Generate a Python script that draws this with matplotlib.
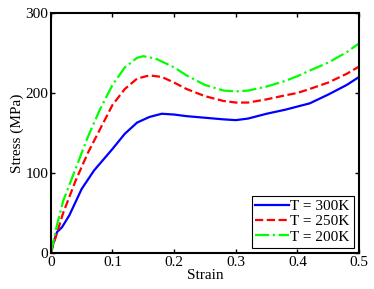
import matplotlib
matplotlib.use('Agg')
import matplotlib.pyplot as plt

plt.rcParams['font.family'] = ['Liberation Serif', 'DejaVu Serif']

# stress-strain data
strain_300 = [0, 0.005, 0.01, 0.018, 0.03, 0.05, 0.07, 0.1, 0.12, 0.14, 0.16, 0.18, 0.2,
              0.22, 0.25, 0.28, 0.3, 0.32, 0.35, 0.38, 0.4, 0.42, 0.45, 0.48, 0.5]
stress_300 = [0, 15, 26, 32, 47, 80, 103, 130, 149, 163, 170, 174, 173,
              171, 169, 167, 166, 168, 174, 179, 183, 187, 198, 210, 220]

strain_250 = [0, 0.01, 0.02, 0.04, 0.06, 0.08, 0.1, 0.12, 0.14, 0.16, 0.18, 0.2,
              0.22, 0.25, 0.28, 0.3, 0.32, 0.35, 0.38, 0.4, 0.42, 0.45, 0.48, 0.5]
stress_250 = [0, 25, 50, 90, 125, 155, 185, 205, 218, 222, 220, 213,
              205, 196, 190, 188, 188, 192, 197, 200, 205, 213, 224, 233]

strain_200 = [0, 0.01, 0.02, 0.04, 0.06, 0.08, 0.1, 0.12, 0.14, 0.15, 0.17, 0.2,
              0.22, 0.25, 0.28, 0.3, 0.32, 0.35, 0.38, 0.4, 0.42, 0.45, 0.48, 0.5]
stress_200 = [0, 35, 65, 105, 145, 180, 210, 232, 244, 246, 243, 232,
              222, 210, 203, 202, 203, 208, 215, 221, 228, 238, 251, 262]

fig = plt.figure(figsize=(3.74, 2.89), dpi=100)
ax = fig.add_axes([0.136, 0.125, 0.824, 0.83])

ax.plot(strain_300, stress_300, '-', color='#0000ff', lw=1.6, label='T = 300K')
ax.plot(strain_250, stress_250, '--', color='#ff0000', lw=1.6, label='T = 250K')
ax.plot(strain_200, stress_200, '-.', color='#00ff00', lw=1.6, label='T = 200K')

ax.set_xlim(0, 0.5)
ax.set_ylim(0, 300)
ax.set_xticks([0, 0.1, 0.2, 0.3, 0.4, 0.5])
ax.set_xticklabels(['0', '0.1', '0.2', '0.3', '0.4', '0.5'])
ax.set_yticks([0, 100, 200, 300])
ax.tick_params(direction='in', top=True, right=True, length=3, width=1, labelsize=11, pad=2)
for s in ax.spines.values():
    s.set_linewidth(1.5)

ax.set_xlabel('Strain', fontsize=11, labelpad=0)
ax.set_ylabel('Stress (MPa)', fontsize=11, labelpad=1)

leg = ax.legend(loc='lower right', fontsize=11, handlelength=2.2, handletextpad=0.1,
                borderpad=0.25, labelspacing=0.1, borderaxespad=0.35, fancybox=False,
                framealpha=1)
leg.get_frame().set_edgecolor('black')
leg.get_frame().set_linewidth(0.8)

fig.savefig('out.png', dpi=100)
